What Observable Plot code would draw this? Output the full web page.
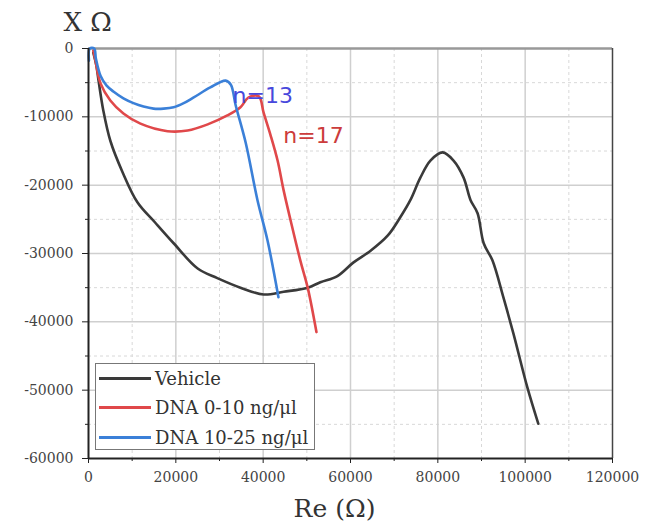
<!DOCTYPE html>
<html>
<head>
<meta charset="utf-8">
<script src="https://cdn.jsdelivr.net/npm/d3@7"></script>
<script src="https://cdn.jsdelivr.net/npm/@observablehq/plot@0.6"></script>
<style>
  html, body { margin: 0; padding: 0; background: #fff; }
  #wrap { position: relative; width: 645px; height: 524px; overflow: hidden; }
  #legend { position: absolute; left: 95px; top: 363px; width: 220px; height: 87px;
    border: 1px solid #777; background: #fff; box-sizing: border-box;
    font-family: "DejaVu Serif", serif; font-size: 18px; color: #333; }
  .row { position: absolute; left: 0; height: 20px; display: flex; align-items: center; }
  .sw { width: 52px; height: 3px; margin-left: 3px; margin-right: 4px; }
</style>
</head>
<body>
<div id="wrap"><div id="legend"></div></div>
<script>
// ---- data ----
const seriesNames = ["Vehicle", "DNA 0-10 ng/\u03bcl", "DNA 10-25 ng/\u03bcl"];
const seriesColors = ["#3a3a3a", "#e0484a", "#3b80d8"];

const vehicleRe = [1100, 1800, 2300, 3400, 5000, 7800, 11200, 15300, 19500, 25000, 29500, 34800, 40100, 44700, 50200, 53100, 57000, 60700, 64600, 68500, 71400, 73700, 76000, 78300, 81100, 83600, 85900, 87500, 89100, 90500, 92500, 95000, 97300, 100500, 103000];
const vehicleX  = [-600, -2500, -4700, -9100, -13500, -18100, -22500, -25500, -28500, -32200, -33600, -35000, -36000, -35600, -35000, -34200, -33300, -31300, -29600, -27400, -24700, -22200, -18900, -16400, -15200, -16400, -18900, -22200, -24100, -28500, -31000, -36400, -41700, -49600, -54900];

const dna010Re = [1100, 1600, 2750, 5000, 8000, 11900, 18100, 22700, 27300, 31800, 34800, 36600, 39000, 40100, 41700, 43300, 44700, 46300, 48500, 50200, 52200];
const dna010X  = [-300, -1800, -5100, -7600, -9500, -11000, -12100, -12000, -11100, -9800, -8600, -7200, -7000, -9400, -12700, -16400, -20800, -25200, -31000, -35000, -41500];

const dna1025Re = [100, 300, 1300, 1700, 2750, 4100, 5700, 8000, 10300, 12600, 14900, 17200, 19500, 21800, 24000, 27900, 31400, 32600, 33700, 36000, 38700, 41000, 43500];
const dna1025X  = [-1800, 0, 0, -1500, -4000, -5400, -6300, -7300, -8000, -8500, -8800, -8800, -8600, -8000, -7200, -5700, -4700, -5300, -8300, -13800, -22200, -28100, -36400];

const annotText = ["n=13", "n=17"];
const annotRe = [33000, 44600];
const annotX = [-8000, -13900];
const annotColors = ["#4848dc", "#cc3c3c"];

const xMajor = [0, 20000, 40000, 60000, 80000, 100000, 120000];
const xMinor = [10000, 30000, 50000, 70000, 90000, 110000];
const yMajor = [0, -10000, -20000, -30000, -40000, -50000, -60000];
const yMinor = [-5000, -15000, -25000, -35000, -45000, -55000];

const xTitle = "Re (\u03a9)";
const yTitle = "X \u03a9";

// ---- build table ----
const rows = [];
[[vehicleRe, vehicleX], [dna010Re, dna010X], [dna1025Re, dna1025X]].forEach(([xs, ys], i) => {
  xs.forEach((v, j) => rows.push({series: seriesNames[i], re: v, im: ys[j]}));
});
const annots = annotText.map((t, i) => ({t, re: annotRe[i], im: annotX[i], c: annotColors[i]}));

const fmt = d => String(d);
const tickFont = {fontFamily: "DejaVu Serif, serif", fontSize: 14, fill: "#444"};

const chart = Plot.plot({
  width: 645, height: 524,
  marginLeft: 88, marginRight: 33, marginTop: 48, marginBottom: 66,
  style: {fontFamily: "DejaVu Serif, serif", background: "#fff"},
  x: {domain: [0, 120000]},
  y: {domain: [-60000, 0]},
  color: {domain: seriesNames, range: seriesColors},
  marks: [
    Plot.gridX(xMinor, {stroke: "#d8d8d8", strokeOpacity: 1, strokeDasharray: "3,3"}),
    Plot.gridY(yMinor, {stroke: "#d8d8d8", strokeOpacity: 1, strokeDasharray: "3,3"}),
    Plot.gridX(xMajor.slice(1, -1), {stroke: "#cfcfcf", strokeOpacity: 1, strokeWidth: 1.5}),
    Plot.gridY(yMajor.slice(1, -1), {stroke: "#cfcfcf", strokeOpacity: 1, strokeWidth: 1.5}),
    Plot.ruleY([0], {stroke: "#999", strokeWidth: 2.5}),
    Plot.ruleX([120000], {stroke: "#444", strokeWidth: 1.5}),
    Plot.line(rows, {x: "re", y: "im", z: "series", stroke: "series", curve: "catmull-rom", strokeWidth: 2.6, strokeLinejoin: "round", strokeLinecap: "round"}),
    Plot.text(annots, {x: "re", y: "im", text: "t", fill: "c", textAnchor: "start", lineAnchor: "bottom", fontFamily: "DejaVu Sans, sans-serif", fontSize: 22}),
    Plot.ruleX([0], {stroke: "#222", strokeWidth: 2}),
    Plot.ruleY([-60000], {stroke: "#222", strokeWidth: 2}),
    Plot.axisX(xMajor, {tickSize: 5, tickPadding: 9, tickFormat: fmt, label: null, stroke: "#222", ...tickFont}),
    Plot.axisX(xMinor, {tickSize: 3, text: null, label: null, stroke: "#222"}),
    Plot.axisY(yMajor, {tickSize: 6, tickPadding: 9, tickFormat: fmt, label: null, stroke: "#222", ...tickFont}),
    Plot.axisY(yMinor, {tickSize: 3, text: null, label: null, stroke: "#222"}),
    Plot.text([yTitle], {frameAnchor: "top-left", dx: -25, dy: -18, textAnchor: "start", lineAnchor: "bottom", fontFamily: "DejaVu Serif, serif", fontSize: 26, fill: "#333"}),
    Plot.text([xTitle], {frameAnchor: "bottom", dx: -16, dy: 58, textAnchor: "middle", lineAnchor: "bottom", fontFamily: "DejaVu Serif, serif", fontSize: 25, fill: "#333"})
  ]
});
const wrap = document.getElementById("wrap");
wrap.insertBefore(chart, wrap.firstChild);

const legend = document.getElementById("legend");
seriesNames.forEach((n, i) => {
  const r = document.createElement("div");
  r.className = "row";
  r.style.top = (4 + i * 29.5) + "px";
  const sw = document.createElement("span");
  sw.className = "sw";
  sw.style.background = seriesColors[i];
  const t = document.createElement("span");
  t.textContent = n;
  r.appendChild(sw); r.appendChild(t);
  legend.appendChild(r);
});
</script>
</body>
</html>
